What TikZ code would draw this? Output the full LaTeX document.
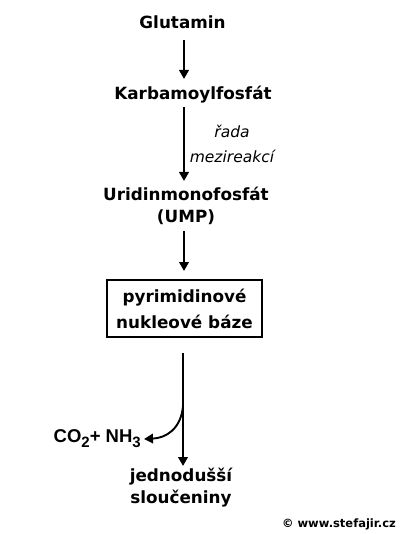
\documentclass[tikz,border=0pt]{standalone}
\usepackage{fontspec}
\setmainfont{DejaVu Sans}
\newfontfamily\arialb{Liberation Sans}[BoldFont={* Bold}]
\usetikzlibrary{arrows.meta}
\tikzset{
  lbl/.style={font=\bfseries\fontsize{16.8}{22}\selectfont, align=center, inner sep=0pt},
  arr/.style={line width=2.2pt, -{Triangle[length=9pt,width=9.5pt]}},
  boxed/.style={draw, line width=2.8pt, minimum width=155pt, minimum height=57pt, align=center, font=\bfseries\fontsize{16.8}{26}\selectfont},
}
\begin{document}
\begin{tikzpicture}[x=1pt,y=-1pt]
\useasboundingbox (0,0) rectangle (400,534);
\node[lbl] (glu) at (182.5,22) {Glutamin};
\node[lbl] (karb) at (193,95) {Karbamoylfosfát};
\node[font=\itshape\fontsize{15.5}{25}\selectfont, align=center, inner sep=0pt] (rada) at (232,144) {řada\\mezireakcí};
\node[lbl] (ump) at (186,206) {Uridinmonofosfát\\(UMP)};
\node[boxed] (box) at (184.5,308.5) {pyrimidinové\\nukleové báze};
\node[font=\arialb\bfseries\fontsize{18.5}{20}\selectfont, anchor=east, inner sep=0pt] (co2) at (141,439) {CO\raisebox{-5pt}{\fontsize{15}{15}\selectfont 2}+ NH\raisebox{-5pt}{\fontsize{15}{15}\selectfont 3}};
\node[lbl] (jed) at (181,488) {jednodušší\\sloučeniny};
\node[font=\bfseries\fontsize{11.5}{13}\selectfont, anchor=east, inner sep=0pt] (copy) at (396,524) {© www.stefajir.cz};
\coordinate (a1s) at (184,40);
\coordinate (a1e) at (184,79);
\coordinate (a2s) at (184,107);
\coordinate (a2e) at (184,181);
\coordinate (a3s) at (184,231);
\coordinate (a3e) at (184,271);
\coordinate (a4s) at (183,353);
\coordinate (a4e) at (183,466);
\coordinate (br) at (183,406);
\coordinate (co2tip) at (144,439);
\draw[arr] (a1s) -- (a1e);
\draw[arr] (a2s) -- (a2e);
\draw[arr] (a3s) -- (a3e);
\draw[arr] (a4s) -- (a4e);
\draw[arr, line width=1.9pt] (br) .. controls (181,429) and (166,438) .. (co2tip);
\end{tikzpicture}
\end{document}
